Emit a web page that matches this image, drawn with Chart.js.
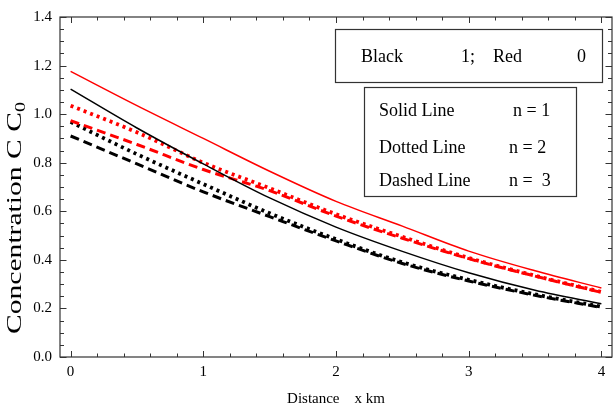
<!DOCTYPE html>
<html>
<head>
    <title>Concentration vs Distance</title>
    <script src="https://cdn.jsdelivr.net/npm/chart.js"></script>
    <style>
        body { margin: 0; background: #fff; }
    </style>
</head>
<body>
    <canvas id="concChart" width="613" height="411"></canvas>

    <script>
    // distance (km) and concentration values
    const distance = [0, 0.5, 1, 1.5, 2, 2.5, 3, 3.5, 4];
    const redSolid = [1.176, 1.035, 0.900, 0.765, 0.641, 0.539, 0.436, 0.355, 0.284];
    const redDotted = [1.035, 0.925, 0.800, 0.695, 0.588, 0.495, 0.408, 0.335, 0.268];
    const redDashed = [0.973, 0.875, 0.772, 0.685, 0.580, 0.489, 0.405, 0.333, 0.266];
    const blackSolid = [1.103, 0.943, 0.795, 0.655, 0.535, 0.435, 0.347, 0.275, 0.219];
    const blackDotted = [0.968, 0.835, 0.712, 0.592, 0.485, 0.390, 0.318, 0.258, 0.207];
    const blackDashed = [0.910, 0.795, 0.680, 0.578, 0.478, 0.385, 0.313, 0.254, 0.204];

    const xTicks = [0, 1, 2, 3, 4];
    const yTicks = [0, 0.2, 0.4, 0.6, 0.8, 1.0, 1.2, 1.4];

    const legendTop = ['Black', '1;', 'Red', '0'];
    const legendRows = [['Solid Line', 'n = 1'], ['Dotted Line', 'n = 2'], ['Dashed Line', 'n =  3']];

    const serif = '"Liberation Serif", "DejaVu Serif", serif';

    function pontos(ys) {
        return distance.map((x, i) => ({ x: x, y: ys[i] }));
    }

    function serie(ys, color, style) {
        const ds = {
            data: pontos(ys),
            borderColor: color,
            pointRadius: 0,
            fill: false,
            cubicInterpolationMode: 'monotone',
            borderWidth: 1.5
        };
        if (style === 'dotted') { ds.borderDash = [3, 4]; ds.borderWidth = 3.8; }
        if (style === 'dashed') { ds.borderDash = [9, 5]; ds.borderWidth = 3; }
        return ds;
    }

    // frame, inward ticks, boxed legends and y title
    const framePlugin = {
        id: 'frame',
        afterDraw(chart) {
            const ctx = chart.ctx;
            const a = chart.chartArea;
            const sx = chart.scales.x, sy = chart.scales.y;
            ctx.save();
            ctx.strokeStyle = '#333';
            ctx.lineWidth = 1.2;
            ctx.strokeRect(a.left, a.top, a.right - a.left, a.bottom - a.top);

            ctx.lineWidth = 1;
            ctx.beginPath();
            for (let i = 0; i <= 20; i++) {
                const v = i * 0.2;
                const px = Math.round(sx.getPixelForValue(v)) + 0.5;
                const len = (i % 5 === 0) ? 6 : 3.5;
                ctx.moveTo(px, a.bottom); ctx.lineTo(px, a.bottom - len);
                ctx.moveTo(px, a.top); ctx.lineTo(px, a.top + len);
            }
            for (let i = 0; i <= 28; i++) {
                const v = i * 0.05;
                const py = Math.round(sy.getPixelForValue(v)) + 0.5;
                const len = (i % 4 === 0) ? 6.5 : 4;
                ctx.moveTo(a.left, py); ctx.lineTo(a.left + len, py);
                ctx.moveTo(a.right, py); ctx.lineTo(a.right - len, py);
            }
            ctx.stroke();

            // legend boxes
            ctx.fillStyle = '#fff';
            ctx.lineWidth = 1.2;
            ctx.fillRect(335, 29, 267, 53);
            ctx.strokeRect(335.5, 29.5, 267, 53);
            ctx.fillRect(364, 87, 212, 109);
            ctx.strokeRect(364.5, 87.5, 212, 109);

            ctx.fillStyle = '#000';
            ctx.font = '18px ' + serif;
            ctx.textBaseline = 'alphabetic';
            ctx.textAlign = 'left';
            const topX = [361, 461, 493, 577];
            legendTop.forEach((t, i) => ctx.fillText(t, topX[i], 62));
            const rowY = [116, 153, 186];
            const rowX2 = [513, 509, 509];
            legendRows.forEach((r, i) => {
                ctx.fillText(r[0], 379, rowY[i]);
                ctx.fillText(r[1], rowX2[i], rowY[i]);
            });

            // y axis title with subscript 0, a little stretched along its length
            const main = 'Concentration C C';
            const big = '22px ' + serif, small = '15px ' + serif;
            ctx.font = big;
            const wMain = ctx.measureText(main).width;
            ctx.font = small;
            const wSub = ctx.measureText('0').width;
            const k = 232 / (wMain + wSub);
            ctx.translate(21, 218);
            ctx.rotate(-Math.PI / 2);
            ctx.scale(k, 1);
            const x0 = -(wMain + wSub) / 2;
            ctx.font = big;
            ctx.fillText(main, x0, 0);
            ctx.font = small;
            ctx.fillText('0', x0 + wMain, 4);
            ctx.restore();
        }
    };

    const ctx = document.getElementById('concChart').getContext('2d');
    new Chart(ctx, {
        type: 'line',
        data: {
            datasets: [
                serie(redSolid, '#ff0000', 'solid'),
                serie(blackSolid, '#000000', 'solid'),
                serie(redDotted, '#ff0000', 'dotted'),
                serie(redDashed, '#ff0000', 'dashed'),
                serie(blackDotted, '#000000', 'dotted'),
                serie(blackDashed, '#000000', 'dashed')
            ]
        },
        options: {
            responsive: false,
            animation: false,
            layout: { padding: { top: 14, right: 1, left: 0, bottom: 0 } },
            plugins: { legend: { display: false }, tooltip: { enabled: false } },
            scales: {
                x: {
                    type: 'linear',
                    min: -0.08,
                    max: 4.08,
                    grid: { display: false, drawTicks: false },
                    border: { display: false },
                    afterBuildTicks: s => { s.ticks = xTicks.map(v => ({ value: v })); },
                    afterFit: s => { s.height = 54; },
                    ticks: {
                        padding: 6,
                        color: '#000',
                        font: { family: serif, size: 15 },
                        callback: v => String(v)
                    },
                    title: {
                        display: true,
                        text: 'Distance    x km',
                        color: '#000',
                        font: { family: serif, size: 15 },
                        padding: { top: 0, bottom: 3 }
                    }
                },
                y: {
                    min: 0,
                    max: 1.4,
                    grid: { display: false, drawTicks: false },
                    border: { display: false },
                    afterBuildTicks: s => { s.ticks = yTicks.map(v => ({ value: v })); },
                    afterFit: s => { s.width = 60; },
                    ticks: {
                        padding: 8,
                        color: '#000',
                        font: { family: serif, size: 15 },
                        callback: v => Number(v).toFixed(1)
                    }
                }
            }
        },
        plugins: [framePlugin]
    });
    </script>
</body>
</html>
